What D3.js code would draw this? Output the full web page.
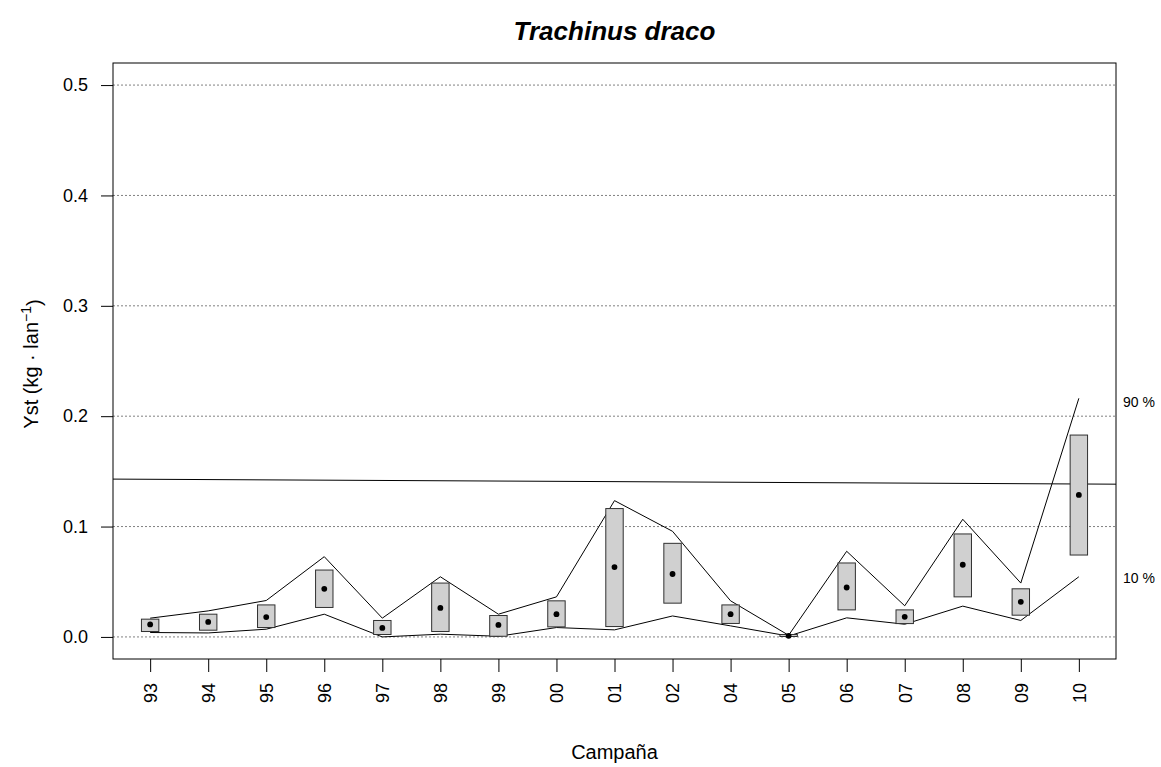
<!DOCTYPE html>
<html><head><meta charset="utf-8">
<script src="https://cdn.jsdelivr.net/npm/d3@7"></script>
<style>body{margin:0;background:#fff;} svg{display:block;font-family:"Liberation Sans",Arial,sans-serif;}</style>
</head><body>
<svg id="c" width="1161" height="767"></svg>
<script>
const campaigns = ["93","94","95","96","97","98","99","00","01","02","04","05","06","07","08","09","10"];
const meanVals = [0.0113,0.0136,0.018,0.0436,0.0082,0.0263,0.0109,0.0206,0.0633,0.057,0.0206,0.001,0.0448,0.0182,0.0654,0.0318,0.1287];
const boxLow  = [0.0049,0.0061,0.0085,0.0267,0.0022,0.0049,0.0006,0.0091,0.0094,0.0306,0.0122,0.0004,0.0245,0.0121,0.0363,0.0197,0.0742];
const boxHigh = [0.0161,0.0206,0.029,0.0606,0.0149,0.0488,0.0194,0.0327,0.1163,0.0848,0.029,0.0022,0.067,0.0245,0.0933,0.0436,0.1829];
const q90 = [0.017,0.0236,0.033,0.0727,0.017,0.0545,0.0206,0.0363,0.1235,0.0957,0.0327,0.0015,0.0776,0.0282,0.1066,0.0488,0.2162];
const q10 = [0.004,0.0036,0.007,0.0206,0.0,0.0025,0.0006,0.0085,0.0064,0.019,0.01,0.0008,0.0173,0.0115,0.0279,0.0149,0.0545];
const refLine = [0.143, 0.1384];
const yTicks = [0,0.1,0.2,0.3,0.4,0.5];

const svg = d3.select("#c");
const L=113, R=1116, T=63, B=659;
const n = campaigns.length;
const x = d3.scaleLinear().domain([1-0.04*(n-1), n+0.04*(n-1)]).range([L,R]);
const y = d3.scaleLinear().domain([-0.02,0.52]).range([B,T]);
const idx = d3.range(n);
const FONT = "Liberation Sans, Arial, sans-serif";

// grid
svg.append("g").selectAll("line").data(yTicks).join("line")
  .attr("x1",L).attr("x2",R).attr("y1",d=>y(d)).attr("y2",d=>y(d))
  .attr("stroke","#808080").attr("stroke-width",1).attr("stroke-dasharray","2,2");

// clip
svg.append("clipPath").attr("id","clip").append("rect").attr("x",L).attr("y",T).attr("width",R-L).attr("height",B-T);
const g = svg.append("g").attr("clip-path","url(#clip)");

// reference line
g.append("line").attr("x1",x(x.domain()[0])).attr("x2",x(x.domain()[1]))
  .attr("y1",y(refLine[0])).attr("y2",y(refLine[1])).attr("stroke","#000").attr("stroke-width",1);

const line = d3.line().x(i=>x(i+1));
g.append("path").attr("d",line.y(i=>y(q90[i]))(idx)).attr("fill","none").attr("stroke","#000").attr("stroke-width",1);
g.append("path").attr("d",line.y(i=>y(q10[i]))(idx)).attr("fill","none").attr("stroke","#000").attr("stroke-width",1);

const hw = 0.15;
g.selectAll("rect.box").data(idx).join("rect").attr("class","box")
  .attr("x",i=>x(i+1-hw)).attr("width",i=>x(i+1+hw)-x(i+1-hw))
  .attr("y",i=>y(boxHigh[i])).attr("height",i=>y(boxLow[i])-y(boxHigh[i]))
  .attr("fill","#d0d0d0").attr("stroke","#303030").attr("stroke-width",1);

g.selectAll("circle").data(idx).join("circle")
  .attr("cx",i=>x(i+1)).attr("cy",i=>y(meanVals[i])).attr("r",2.9).attr("fill","#000");

// frame
svg.append("rect").attr("x",L).attr("y",T).attr("width",R-L).attr("height",B-T)
  .attr("fill","none").attr("stroke","#000").attr("stroke-width",1);

// y axis
const ya = svg.append("g").attr("transform",`translate(${L},0)`)
  .call(d3.axisLeft(y).tickValues(yTicks).tickFormat(d3.format(".1f")).tickSize(12).tickPadding(13));
ya.select(".domain").remove();
ya.selectAll("text").attr("font-size","18px").attr("font-family",FONT).attr("fill","#000");
ya.selectAll("line").attr("stroke","#000");

// x axis
const xa = svg.append("g").attr("transform",`translate(0,${B})`)
  .call(d3.axisBottom(x).tickValues(idx.map(i=>i+1)).tickFormat(d=>campaigns[d-1]).tickSize(13));
xa.select(".domain").remove();
xa.selectAll("line").attr("stroke","#000");
xa.selectAll("text").attr("font-size","18px").attr("font-family",FONT).attr("fill","#000")
  .attr("transform","translate(0,24) rotate(-90)").attr("text-anchor","end").attr("x",0).attr("y",0).attr("dy","0.35em");

// right labels
svg.append("text").attr("x",1123).attr("y",y(q90[n-1])).attr("dy","0.6em").attr("font-size","14px").text("90 %");
svg.append("text").attr("x",1123).attr("y",y(q10[n-1])).attr("dy","0.45em").attr("font-size","14px").text("10 %");

// title
svg.append("text").attr("x",(L+R)/2).attr("y",40).attr("text-anchor","middle")
  .attr("font-size","26px").attr("font-weight","bold").attr("font-style","italic").text("Trachinus draco");

// x label
svg.append("text").attr("x",(L+R)/2).attr("y",759).attr("text-anchor","middle").attr("font-size","20px").text("Campaña");

// y label
const yl = svg.append("text").attr("transform",`translate(38,${(T+B)/2+3}) rotate(-90)`).attr("text-anchor","middle").attr("font-size","20px");
yl.append("tspan").text("Yst (kg \u00B7 lan");
yl.append("tspan").attr("dy","-0.5em").attr("font-size","14px").text("\u22121");
yl.append("tspan").attr("dy","0.5em").text(")");
</script>
</body></html>
